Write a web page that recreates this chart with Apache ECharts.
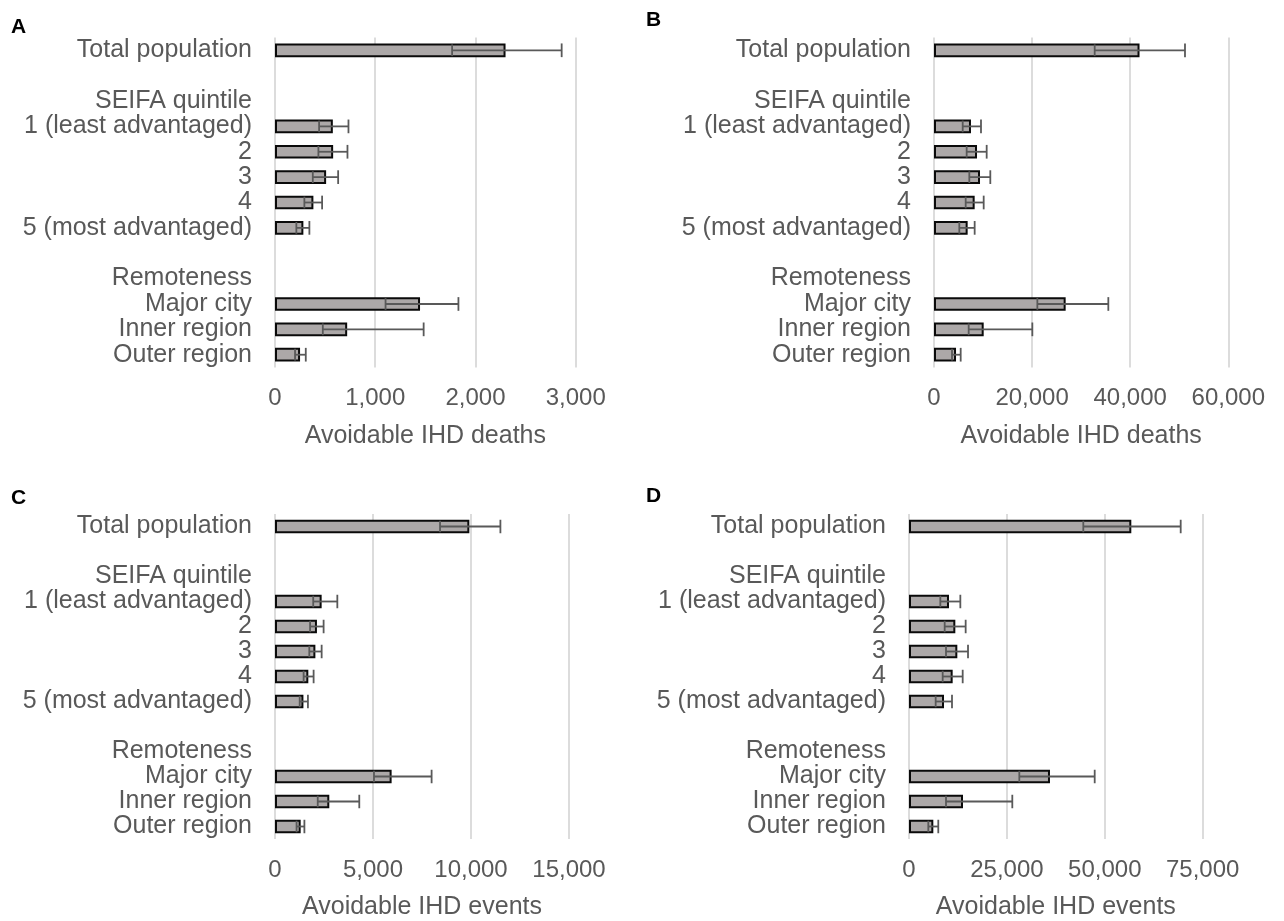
<!DOCTYPE html>
<html>
<head>
<meta charset="utf-8">
<script src="https://cdn.jsdelivr.net/npm/echarts@6/dist/echarts.min.js"></script>
<style>
html,body{margin:0;padding:0;background:#fff;}
#chart{width:1284px;height:921px;}
</style>
</head>
<body>
<div id="chart"></div>
<script>
const categories = ['Total population', '', 'SEIFA quintile', '1 (least advantaged)', '2', '3', '4', '5 (most advantaged)', '', 'Remoteness', 'Major city', 'Inner region', 'Outer region'];

// Panel A: avoidable IHD deaths
const aValues = [2300, null, null, 577, 580, 510, 383, 283, null, null, 1447, 720, 250];
const aLower  = [1767, null, null, 440, 433, 377, 293, 213, null, null, 1103, 477, 200];
const aUpper  = [2860, null, null, 733, 723, 630, 470, 343, null, null, 1830, 1483, 307];

// Panel B: avoidable IHD deaths
const bValues = [41900, null, null, 7540, 8770, 9380, 8290, 6860, null, null, 26840, 10130, 4490];
const bLower  = [32760, null, null, 5850, 6660, 7200, 6460, 5160, null, null, 21070, 7070, 3670];
const bUpper  = [51170, null, null, 9580, 10740, 11480, 10130, 8290, null, null, 35540, 20050, 5440];

// Panel C: avoidable IHD events
const cValues = [9915, null, null, 2380, 2140, 2060, 1700, 1450, null, null, 5950, 2770, 1310];
const cLower  = [8420, null, null, 1950, 1790, 1750, 1460, 1260, null, null, 5050, 2180, 1100];
const cUpper  = [11500, null, null, 3180, 2480, 2380, 1970, 1680, null, null, 7990, 4300, 1500];

// Panel D: avoidable IHD events
const dValues = [56770, null, null, 10210, 11830, 12340, 11150, 8940, null, null, 36000, 13790, 6210];
const dLower  = [44510, null, null, 8000, 9110, 9450, 8600, 6810, null, null, 28170, 9450, 4930];
const dUpper  = [69380, null, null, 13110, 14470, 15070, 13710, 10980, null, null, 47420, 26380, 7480];

const axisMax = [3000, 60000, 15000, 75000];
const axisInterval = [1000, 20000, 5000, 25000];
const axisNames = ['Avoidable IHD deaths', 'Avoidable IHD deaths', 'Avoidable IHD events', 'Avoidable IHD events'];
const panelLetters = ['A', 'B', 'C', 'D'];

const panels = [
  {v: aValues, lo: aLower, hi: aUpper},
  {v: bValues, lo: bLower, hi: bUpper},
  {v: cValues, lo: cLower, hi: cUpper},
  {v: dValues, lo: dLower, hi: dUpper}
];

const FONT = '"Liberation Sans", Arial, Helvetica, sans-serif';
const TXT = '#595959';
const BAR_FRAC = 0.54;

const grids = [
  {left: 275, top: 37.6, width: 300.7, height: 329.8},
  {left: 934, top: 37.6, width: 294.3, height: 329.8},
  {left: 275, top: 514, width: 294, height: 329},
  {left: 909, top: 514, width: 293.7, height: 329}
];

const xAxes = [], yAxes = [], series = [];
panels.forEach((p, i) => {
  xAxes.push({
    gridIndex: i, type: 'value', min: 0, max: axisMax[i], interval: axisInterval[i],
    axisLine: {show: false}, axisTick: {show: false},
    splitLine: {show: true, lineStyle: {color: '#d9d9d9', width: 1.8}},
    axisLabel: {color: TXT, fontSize: 24, fontFamily: FONT, margin: 19,
      formatter: v => v.toLocaleString('en-US')},
    name: axisNames[i], nameLocation: 'middle', nameGap: 56,
    nameTextStyle: {color: TXT, fontSize: 25, fontFamily: FONT}
  });
  yAxes.push({
    gridIndex: i, type: 'category', data: categories, inverse: true,
    axisLine: {show: false}, axisTick: {show: false},
    axisLabel: {color: TXT, fontSize: 25, fontFamily: FONT, margin: 23, interval: 0}
  });
  series.push({
    type: 'bar', xAxisIndex: i, yAxisIndex: i, data: p.v, barWidth: (BAR_FRAC * 100) + '%',
    itemStyle: {color: '#aca8a8', borderColor: '#0a0a0a', borderWidth: 2},
    silent: true
  });
  const errData = [];
  p.v.forEach((val, k) => {
    if (val !== null) errData.push([k, p.lo[k], p.hi[k]]);
  });
  series.push({
    type: 'custom', xAxisIndex: i, yAxisIndex: i, data: errData,
    encode: {y: 0, x: [1, 2]},
    renderItem: function (params, api) {
      const cat = api.value(0);
      const lo = api.coord([api.value(1), cat]);
      const hi = api.coord([api.value(2), cat]);
      const band = api.size([0, 1])[1];
      const h = band * BAR_FRAC / 2;
      const style = {stroke: '#595959', lineWidth: 1.8, fill: null};
      return {
        type: 'group',
        children: [
          {type: 'line', shape: {x1: lo[0], y1: lo[1] - h + 1, x2: lo[0], y2: lo[1] + h - 1}, style: style},
          {type: 'line', shape: {x1: lo[0], y1: lo[1], x2: hi[0], y2: hi[1]}, style: style},
          {type: 'line', shape: {x1: hi[0], y1: hi[1] - h, x2: hi[0], y2: hi[1] + h}, style: style}
        ]
      };
    },
    silent: true, z: 5
  });
});

const letterPos = [[11, 17], [646, 10], [11, 488], [646, 486]];
const graphics = panelLetters.map((t, i) => ({
  type: 'text', left: letterPos[i][0], top: letterPos[i][1],
  style: {text: t, fill: '#000', fontSize: 21, fontWeight: 'bold', fontFamily: FONT}
}));

const chart = echarts.init(document.getElementById('chart'), null, {renderer: 'canvas'});
chart.setOption({
  animation: false,
  backgroundColor: '#ffffff',
  grid: grids,
  xAxis: xAxes,
  yAxis: yAxes,
  series: series,
  graphic: graphics
});
</script>
</body>
</html>
